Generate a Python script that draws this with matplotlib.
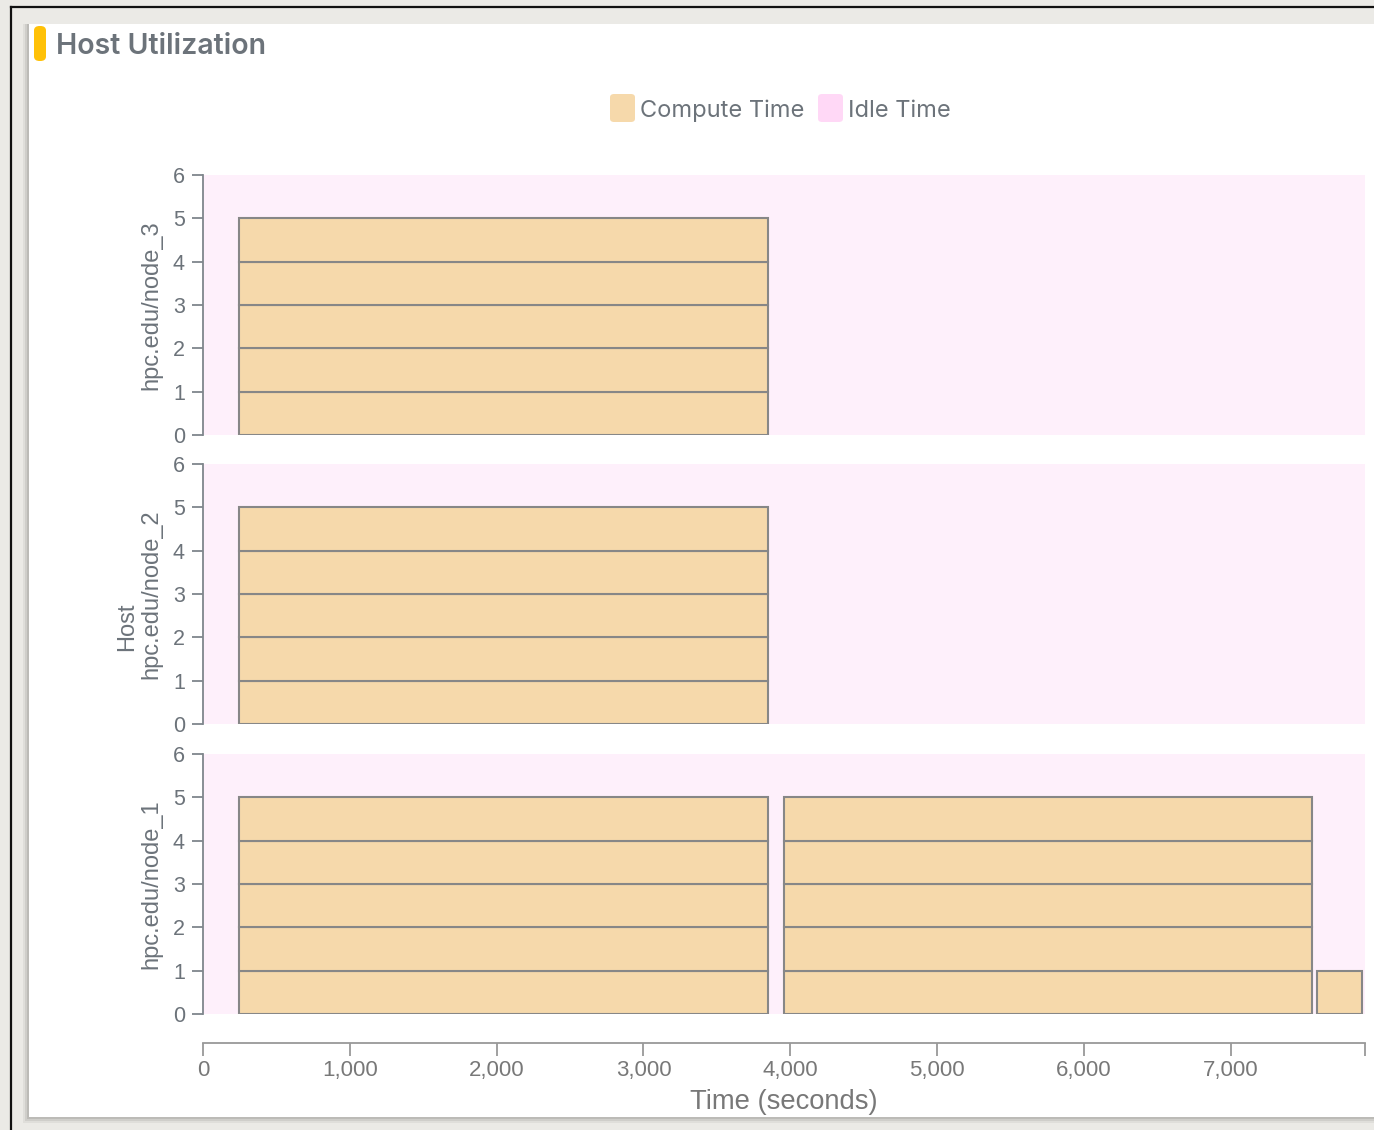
import matplotlib
matplotlib.use("Agg")
import matplotlib.pyplot as plt
from matplotlib.patches import Rectangle, FancyBboxPatch
from matplotlib.lines import Line2D
from matplotlib.ticker import FuncFormatter

# data: one rectangle per task (start, end, slot)
hosts = ["hpc.edu/node_3", "hpc.edu/node_2", "hpc.edu/node_1"]

node_3_starts = [245, 245, 245, 245, 245]
node_3_ends = [3850, 3850, 3850, 3850, 3850]
node_3_slots = [0, 1, 2, 3, 4]

node_2_starts = [245, 245, 245, 245, 245]
node_2_ends = [3850, 3850, 3850, 3850, 3850]
node_2_slots = [0, 1, 2, 3, 4]

node_1_starts = [245, 245, 245, 245, 245, 3955, 3955, 3955, 3955, 3955, 7585]
node_1_ends = [3850, 3850, 3850, 3850, 3850, 7555, 7555, 7555, 7555, 7555, 7895]
node_1_slots = [0, 1, 2, 3, 4, 0, 1, 2, 3, 4, 0]

y_ticks = [0, 1, 2, 3, 4, 5, 6]
x_ticks = [0, 1000, 2000, 3000, 4000, 5000, 6000, 7000]
x_max = 7915

legend_labels = ["Compute Time", "Idle Time"]

# colours
compute_color = "#f6d9ab"
idle_swatch = "#ffd8f6"
idle_bg = "#fef0fb"
edge_color = "#878787"
text_color = "#6c737a"
axis_color = "#7f868c"
x_text_color = "#787878"
x_axis_color = "#999999"

W, H = 1374, 1130
fig = plt.figure(figsize=(W / 100, H / 100), dpi=100)
fig.patch.set_facecolor("#ebeae6")


def fx(x):
    return x / W


def fy(y):
    return 1 - y / H


# page frame, card + shadow (kept below the axes)
for off, a in [(6, 0.05), (4, 0.07), (2, 0.09)]:
    fig.patches.append(Rectangle((fx(29 - off), fy(1117 + off)), fx(W), (1117 - 24 + off) / H,
                                 transform=fig.transFigure, facecolor="black", alpha=a,
                                 edgecolor="none", zorder=-3))
fig.patches.append(Rectangle((fx(29), fy(1117)), fx(W - 29), (1117 - 24) / H,
                             transform=fig.transFigure, facecolor="white",
                             edgecolor="none", zorder=-2))
fig.lines.append(Line2D([fx(11), fx(W)], [fy(7), fy(7)], transform=fig.transFigure,
                        color="#111111", lw=1.6, zorder=-1))
fig.lines.append(Line2D([fx(11), fx(11)], [fy(7), fy(H)], transform=fig.transFigure,
                        color="#111111", lw=1.6, zorder=-1))

# title
fig.patches.append(FancyBboxPatch((fx(34), fy(61)), fx(12), 35 / H,
                                  boxstyle="round,pad=0,rounding_size=0.004",
                                  transform=fig.transFigure, facecolor="#ffc107",
                                  edgecolor="none", zorder=1))
fig.text(fx(56), fy(47), "Host Utilization", fontsize=20.5, fontweight="semibold",
         family=["Inter", "DejaVu Sans"], color=text_color, va="center", ha="left")

# legend
swatches = [compute_color, idle_swatch]
sw_x = [610, 818]
txt_x = [640, 848]
for lab, c, sx, tx in zip(legend_labels, swatches, sw_x, txt_x):
    fig.patches.append(FancyBboxPatch((fx(sx), fy(122)), fx(25), 28 / H,
                                      boxstyle="round,pad=0,rounding_size=0.003",
                                      transform=fig.transFigure, facecolor=c,
                                      edgecolor="none", zorder=1))
    fig.text(fx(tx), fy(111), lab, fontsize=17, family=["Inter", "DejaVu Sans"],
             color=text_color, va="center", ha="left")

# panels
starts = [node_3_starts, node_2_starts, node_1_starts]
ends = [node_3_ends, node_2_ends, node_1_ends]
slots = [node_3_slots, node_2_slots, node_1_slots]
tops = [175, 464, 754]
left, right = 203, 1365
panel_h = 260

axes = []
for i, host in enumerate(hosts):
    ax = fig.add_axes([fx(left), fy(tops[i] + panel_h), (right - left) / W, panel_h / H])
    ax.set_facecolor(idle_bg)
    widths = [e - s for s, e in zip(starts[i], ends[i])]
    ax.barh(slots[i], widths, left=starts[i], height=1, align="edge",
            color=compute_color, edgecolor=edge_color, linewidth=1.5)
    ax.set_xlim(0, x_max)
    ax.set_ylim(0, 6)
    ax.set_yticks(y_ticks)
    for s in ["top", "right", "bottom"]:
        ax.spines[s].set_visible(False)
    ax.spines["left"].set_color(axis_color)
    ax.spines["left"].set_linewidth(1.3)
    ax.tick_params(axis="y", length=8, width=1.3, color=axis_color, pad=5,
                   labelsize=15.5, labelcolor=text_color)
    for t in ax.get_yticklabels():
        t.set_family(["Liberation Sans", "DejaVu Sans"])
    ax.set_ylabel(host, fontsize=17, color=text_color, va="center",
                  family=["Liberation Sans", "DejaVu Sans"])
    ax.yaxis.set_label_coords(-(left - 151) / (right - left), 0.5)
    axes.append(ax)

for ax in axes[:2]:
    ax.set_xticks([])

# shared time axis under the bottom panel
axb = axes[2]
axb.spines["bottom"].set_visible(True)
axb.spines["bottom"].set_position(("outward", 29 * 0.72))
axb.spines["bottom"].set_color(x_axis_color)
axb.spines["bottom"].set_linewidth(1.3)
axb.set_xticks(x_ticks)
axb.set_xticks([0, x_max], minor=True)
axb.xaxis.set_major_formatter(FuncFormatter(lambda v, p: f"{int(v):,}"))
axb.tick_params(axis="x", which="both", length=9, width=1.3, color=x_axis_color, pad=3,
                labelsize=16, labelcolor=x_text_color)
for t in axb.get_xticklabels():
    t.set_family(["Liberation Sans", "DejaVu Sans"])
axb.set_xlabel("Time (seconds)", fontsize=19.7, color=x_text_color,
               family=["Liberation Sans", "DejaVu Sans"], labelpad=6)

fig.text(fx(127), fy(627), "Host", rotation=90, fontsize=17, color=text_color,
         ha="center", va="center", family=["Liberation Sans", "DejaVu Sans"])

fig.savefig("out.png", dpi=100, facecolor=fig.get_facecolor())
